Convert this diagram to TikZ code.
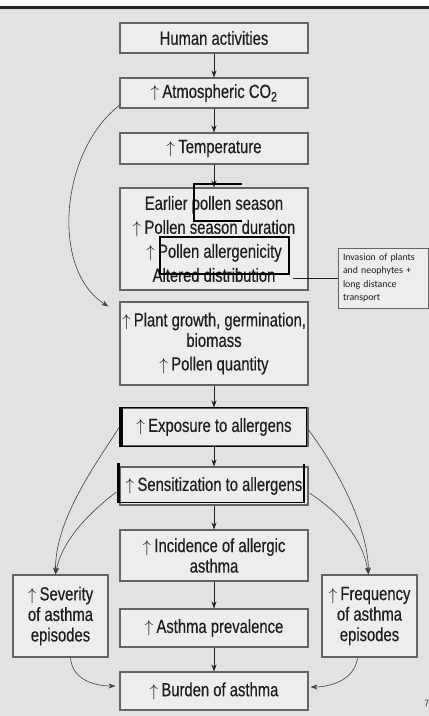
\documentclass[tikz,border=0pt]{standalone}
\usepackage{fontspec}
\setmainfont{Liberation Sans}[FakeStretch=0.78,FakeBold=0.4]
\newfontfamily\notefont{Carlito}
\usetikzlibrary{arrows.meta}
\definecolor{bg}{RGB}{226,226,226}
\definecolor{boxfill}{RGB}{237,237,237}
\definecolor{boxline}{RGB}{100,100,100}
\definecolor{ink}{RGB}{30,30,30}
\newcommand{\uarr}{$\uparrow$}
\begin{document}
\begin{tikzpicture}[x=1pt,y=-1pt,
  box/.style={draw=boxline,fill=boxfill,line width=1.1pt,inner sep=0pt,align=center,
    font=\fontsize{19}{20.5}\selectfont,text=ink,minimum width=188pt},
  sidebox/.style={box,minimum width=95pt,minimum height=82pt},
  arr/.style={-{Stealth[length=7pt,width=5pt]},line width=0.8pt,draw=ink},
  curv/.style={-{Stealth[length=7pt,width=5pt]},line width=0.6pt,draw=ink!85},
  hilite/.style={draw=black,line width=1.6pt},
  notebox/.style={draw=boxline,fill=boxfill,line width=0.8pt,inner sep=0pt,
    minimum width=90pt,minimum height=60pt,text width=80pt,align=left,
    font=\notefont\fontsize{9.8}{13.3}\selectfont,text=ink}
]
\fill[bg] (0,0) rectangle (429,716);
\fill[white] (0,0) rectangle (429,6);
\fill[black!85] (0,6) rectangle (429,8.5);
\useasboundingbox (0,0) rectangle (429,716);

\node[box,minimum height=30pt] (human) at (214,38) {Human activities};
\node[box,minimum height=30pt] (co2) at (214,93) {\uarr\,Atmospheric CO\textsubscript{2}};
\node[box,minimum height=31pt] (temp) at (214,148.5) {\uarr\,Temperature};
\node[box,minimum height=102pt,font=\fontsize{19}{24}\selectfont] (pollen) at (214,239)
  {Earlier pollen season\\ \uarr\,Pollen season duration\\ \uarr\,Pollen allergenicity\\ Altered distribution};
\node[box,minimum height=83pt] (plant) at (214,343.5)
  {\uarr\,Plant growth, germination,\\ biomass\\[3pt] \uarr\,Pollen quantity};
\node[box,minimum height=38pt] (expo) at (214,427) {\uarr\,Exposure to allergens};
\node[box,minimum height=38pt] (sens) at (214,486) {\uarr\,Sensitization to allergens};
\node[box,minimum height=51pt] (incid) at (214,555.5) {\uarr\,Incidence of allergic\\ asthma};
\node[box,minimum height=38pt] (prev) at (214,628) {\uarr\,Asthma prevalence};
\node[box,minimum height=38pt] (burden) at (214,691) {\uarr\,Burden of asthma};
\node[sidebox] (sever) at (60.5,616) {\uarr\,Severity\\ of asthma\\ episodes};
\node[sidebox] (freq) at (369.5,616) {\uarr\,Frequency\\ of asthma\\ episodes};
\node[notebox] (invasion) at (383,278) {Invasion of plants\\ and neophytes +\\ long distance\\ transport};
\coordinate (altend) at (293,278);
\node[anchor=east,inner sep=0pt,font=\fontsize{10}{10}\selectfont,text=ink!70] (pnum) at (429,703) {7};

% straight arrows
\draw[arr] (human.south) -- (co2.north);
\draw[arr] (co2.south) -- (temp.north);
\draw[arr] (temp.south) -- (pollen.north);
\draw[arr] (expo.south) -- (sens.north);
\draw[arr] (sens.south) -- (incid.north);
\draw[arr] (incid.south) -- (prev.north);
\draw[arr] (prev.south) -- (burden.north);
\draw[arr] (plant.south) -- (expo.north);

% curved arrows
\draw[curv] ([xshift=1pt,yshift=4pt]co2.south west) .. controls (60,150) and (50,270) .. ([xshift=-11pt,yshift=-5pt]plant.north west);
\draw[curv] (expo.west) .. controls (95,465) and (55,520) .. ([xshift=-5pt]sever.north);
\draw[curv] ([xshift=-3pt,yshift=-6pt]sens.west) .. controls (90,512) and (62,540) .. ([xshift=-5pt]sever.north);
\draw[curv] ([yshift=-3pt]expo.east) .. controls (335,465) and (368,525) .. ([xshift=-1pt]freq.north);
\draw[curv] ([xshift=1pt,yshift=-7pt]sens.east) .. controls (335,510) and (362,535) .. ([xshift=-1pt]freq.north);
\draw[curv] ([xshift=10pt]sever.south) .. controls (72,680) and (95,686) .. ([xshift=-4pt,yshift=5pt]burden.west);
\draw[curv] ([xshift=-12pt]freq.south) .. controls (355,680) and (330,687) .. ([xshift=2pt,yshift=4pt]burden.east);

% connector to note
\draw[line width=1pt,draw=ink] (altend) -- (invasion.west);

% highlight overlays
\draw[hilite] (242,184) -- (194,184) -- (194,221) -- (242,221);
\draw[hilite,line width=1.8pt] (160,237) rectangle (289,274);
\draw[hilite] (expo.north west) rectangle ([xshift=-2pt]expo.south east);
\draw[black,line width=3.5pt] ([xshift=1.5pt]expo.north west) -- ([xshift=1.5pt]expo.south west);
\draw[black,line width=3pt] (118.5,463) -- (118.5,503);
\draw[hilite] (304,464) -- (304,503);
\draw[hilite] (117,502.5) -- (305,502.5);
\end{tikzpicture}
\end{document}
